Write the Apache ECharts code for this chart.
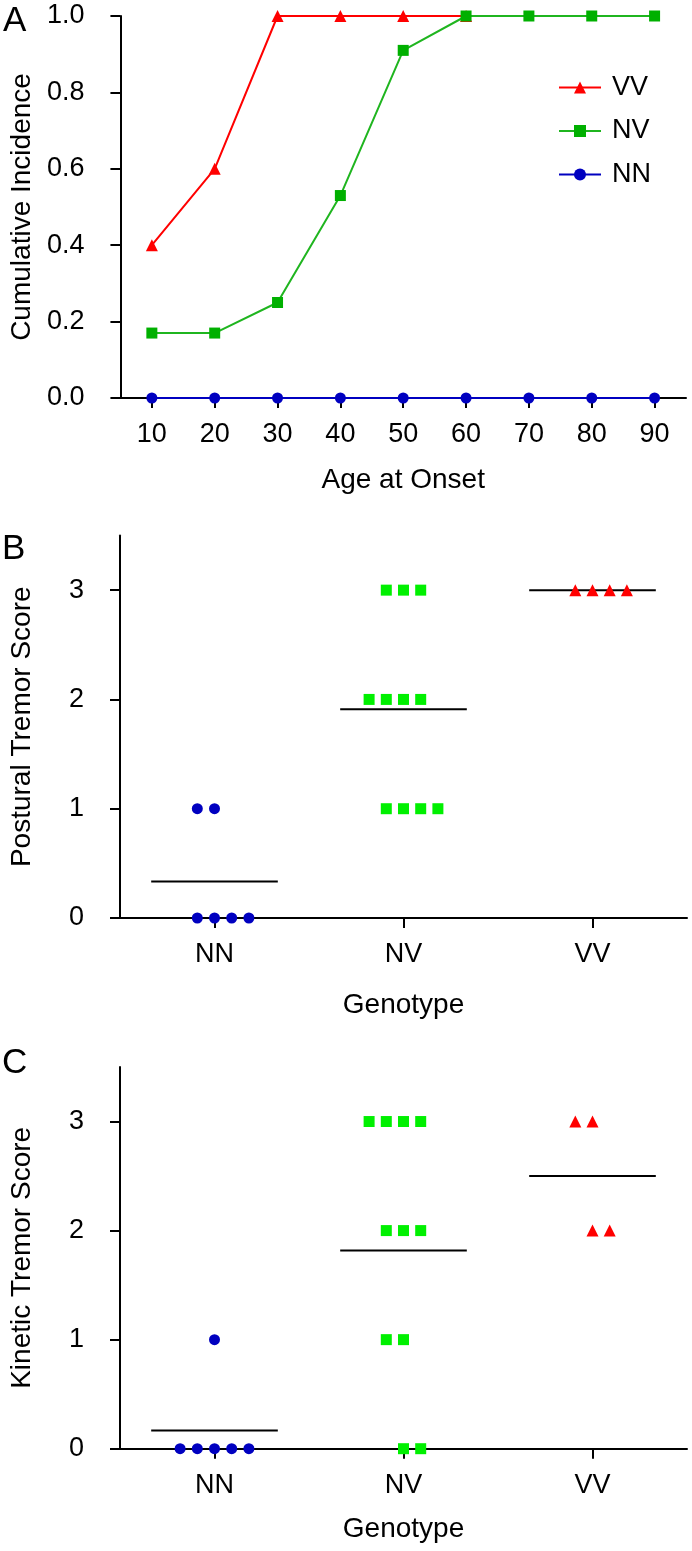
<!DOCTYPE html>
<html><head><meta charset="utf-8">
<script src="https://cdn.jsdelivr.net/npm/echarts@6/dist/echarts.min.js"></script>
<style>html,body{margin:0;padding:0;background:#fff}#c{width:692px;height:1551px}</style>
</head><body><div id="c"></div>
<script>
// ---- Panel A data ----
const ages = [10, 20, 30, 40, 50, 60, 70, 80, 90];
const incidenceVV = [0.4, 0.6, 1.0, 1.0, 1.0, 1.0, null, null, null];
const incidenceNV = [0.17, 0.17, 0.25, 0.53, 0.91, 1.0, 1.0, 1.0, 1.0];
const incidenceNN = [0, 0, 0, 0, 0, 0, 0, 0, 0];
const incidenceTicks = [0, 0.2, 0.4, 0.6, 0.8, 1.0];

// ---- Panels B / C data ----
const genotypes = ['NN', 'NV', 'VV'];
const scoreTicks = [0, 1, 2, 3];
const posturalNN = [0, 0, 0, 0, 1, 1];
const posturalNV = [3, 3, 3, 2, 2, 2, 2, 1, 1, 1, 1];
const posturalVV = [3, 3, 3, 3];
const kineticNN = [0, 0, 0, 0, 0, 1];
const kineticNV = [3, 3, 3, 3, 2, 2, 2, 1, 1, 0, 0];
const kineticVV = [3, 3, 2, 2];

// side-by-side slot of each dot within its row (layout only)
const posturalNNSlot = [-1, 0, 1, 2, -1, 0];
const posturalNVSlot = [-1, 0, 1, -2, -1, 0, 1, -1, 0, 1, 2];
const posturalVVSlot = [-1, 0, 1, 2];
const kineticNNSlot = [-2, -1, 0, 1, 2, 0];
const kineticNVSlot = [-2, -1, 0, 1, -1, 0, 1, -1, 0, 0, 1];
const kineticVVSlot = [-1, 0, 0, 1];

const SLOT = 0.091;      // horizontal step between neighbouring dots (axis units)
const HALF_MEAN = 0.335; // half length of the mean bar (axis units)
const FONT = 'Liberation Sans, Arial, sans-serif';
const RED = '#ff0000', GREEN_A = '#00b000', GREEN = '#00f000', BLUE = '#0000c0';

function mean(a) { return a.reduce((s, v) => s + v, 0) / a.length; }
function dots(g, scores, slots) { return scores.map((s, i) => [g + slots[i] * SLOT, s]); }
function meanBar(g, scores) { const m = mean(scores); return [[g - HALF_MEAN, m], [g + HALF_MEAN, m]]; }

const axisLineStyle = { color: '#000', width: 2 };
const tickStyle = { color: '#000', width: 2 };
const labelStyle = { fontSize: 27, color: '#000', fontFamily: FONT };
const nameStyle = { fontSize: 28, color: '#000', fontFamily: FONT };
const letterStyle = { fontSize: 35, fontWeight: 'normal', color: '#000', fontFamily: FONT };

function genoX(gi, gap) {
  return {
    gridIndex: gi, type: 'value', min: -0.5, max: 2.5,
    splitLine: { show: false },
    axisLine: { show: true, onZero: false, lineStyle: axisLineStyle },
    axisTick: { show: true, length: 10, lineStyle: tickStyle, customValues: [0, 1, 2] },
    axisLabel: Object.assign({ margin: 23, customValues: [0, 1, 2], formatter: v => genotypes[Math.round(v)] }, labelStyle),
    name: 'Genotype', nameLocation: 'middle', nameGap: gap, nameTextStyle: nameStyle
  };
}
function scoreY(gi, name) {
  return {
    gridIndex: gi, type: 'value', min: 0, max: 3.5,
    splitLine: { show: false },
    axisLine: { show: true, onZero: false, lineStyle: axisLineStyle },
    axisTick: { show: true, length: 10, lineStyle: tickStyle, customValues: scoreTicks },
    axisLabel: Object.assign({ margin: 36, customValues: scoreTicks }, labelStyle),
    name: name, nameLocation: 'middle', nameGap: 84, nameTextStyle: nameStyle
  };
}
function scatter(name, gi, data, symbol, size, color) {
  return { name, type: 'scatter', xAxisIndex: gi, yAxisIndex: gi, data, symbol, symbolSize: size,
    itemStyle: { color, opacity: 1 }, z: 4, silent: true };
}
function bar(name, gi, data) {
  return { name, type: 'line', xAxisIndex: gi, yAxisIndex: gi, data, symbol: 'none',
    lineStyle: { color: '#000', width: 2 }, z: 3, silent: true };
}

const option = {
  animation: false,
  backgroundColor: '#fff',
  textStyle: { fontFamily: FONT },
  title: [
    { text: 'A', left: 3, top: 4, padding: 0, textStyle: letterStyle },
    { text: 'B', left: 2, top: 532, padding: 0, textStyle: letterStyle },
    { text: 'C', left: 2, top: 1046, padding: 0, textStyle: letterStyle }
  ],
  legend: {
    data: ['VV', 'NV', 'NN'], orient: 'vertical', left: 558, top: 74, padding: 0,
    itemWidth: 42, itemHeight: 15, itemGap: 16.5, selectedMode: false,
    textStyle: { fontSize: 27, color: '#000', fontFamily: FONT, padding: [0, 0, 0, 6] }
  },
  grid: [
    { left: 113, top: 16, width: 573, height: 382 },
    { left: 114, top: 535.5, width: 573, height: 382.5 },
    { left: 114, top: 1067, width: 573, height: 381.7 }
  ],
  xAxis: [
    {
      gridIndex: 0, type: 'category', data: ages.map(String), boundaryGap: true,
      axisLine: { show: true, lineStyle: axisLineStyle },
      axisTick: { show: true, alignWithLabel: true, length: 10, lineStyle: tickStyle },
      axisLabel: Object.assign({ margin: 23, interval: 0 }, labelStyle),
      name: 'Age at Onset', nameLocation: 'middle', nameGap: 68, nameTextStyle: nameStyle
    },
    genoX(1, 73),
    genoX(2, 67)
  ],
  yAxis: [
    {
      gridIndex: 0, type: 'value', min: 0, max: 1, interval: 0.2,
      splitLine: { show: false },
      axisLine: { show: true, onZero: false, lineStyle: axisLineStyle },
      axisTick: { show: true, length: 10, lineStyle: tickStyle, customValues: incidenceTicks },
      axisLabel: Object.assign({ margin: 36, customValues: incidenceTicks, formatter: v => v.toFixed(1) }, labelStyle),
      name: 'Cumulative Incidence', nameLocation: 'middle', nameGap: 84, nameTextStyle: nameStyle
    },
    scoreY(1, 'Postural Tremor Score'),
    scoreY(2, 'Kinetic Tremor Score')
  ],
  series: [
    { name: 'VV', type: 'line', xAxisIndex: 0, yAxisIndex: 0, data: incidenceVV, symbol: 'triangle', symbolSize: 12,
      itemStyle: { color: RED }, lineStyle: { color: RED, width: 2 }, z: 3 },
    { name: 'NV', type: 'line', xAxisIndex: 0, yAxisIndex: 0, data: incidenceNV, symbol: 'rect', symbolSize: 11,
      itemStyle: { color: GREEN_A }, lineStyle: { color: '#1fb51f', width: 2 }, z: 4 },
    { name: 'NN', type: 'line', xAxisIndex: 0, yAxisIndex: 0, data: incidenceNN, symbol: 'circle', symbolSize: 11,
      itemStyle: { color: BLUE }, lineStyle: { color: BLUE, width: 2 }, z: 5 },

    bar('pNNmean', 1, meanBar(0, posturalNN)),
    bar('pNVmean', 1, meanBar(1, posturalNV)),
    bar('pVVmean', 1, meanBar(2, posturalVV)),
    scatter('pNN', 1, dots(0, posturalNN, posturalNNSlot), 'circle', 11, BLUE),
    scatter('pNV', 1, dots(1, posturalNV, posturalNVSlot), 'rect', 11, GREEN),
    scatter('pVV', 1, dots(2, posturalVV, posturalVVSlot), 'triangle', 12, RED),

    bar('kNNmean', 2, meanBar(0, kineticNN)),
    bar('kNVmean', 2, meanBar(1, kineticNV)),
    bar('kVVmean', 2, meanBar(2, kineticVV)),
    scatter('kNN', 2, dots(0, kineticNN, kineticNNSlot), 'circle', 11, BLUE),
    scatter('kNV', 2, dots(1, kineticNV, kineticNVSlot), 'rect', 11, GREEN),
    scatter('kVV', 2, dots(2, kineticVV, kineticVVSlot), 'triangle', 12, RED)
  ]
};

const chart = echarts.init(document.getElementById('c'), null, { renderer: 'canvas' });
chart.setOption(option);
</script>
</body></html>
